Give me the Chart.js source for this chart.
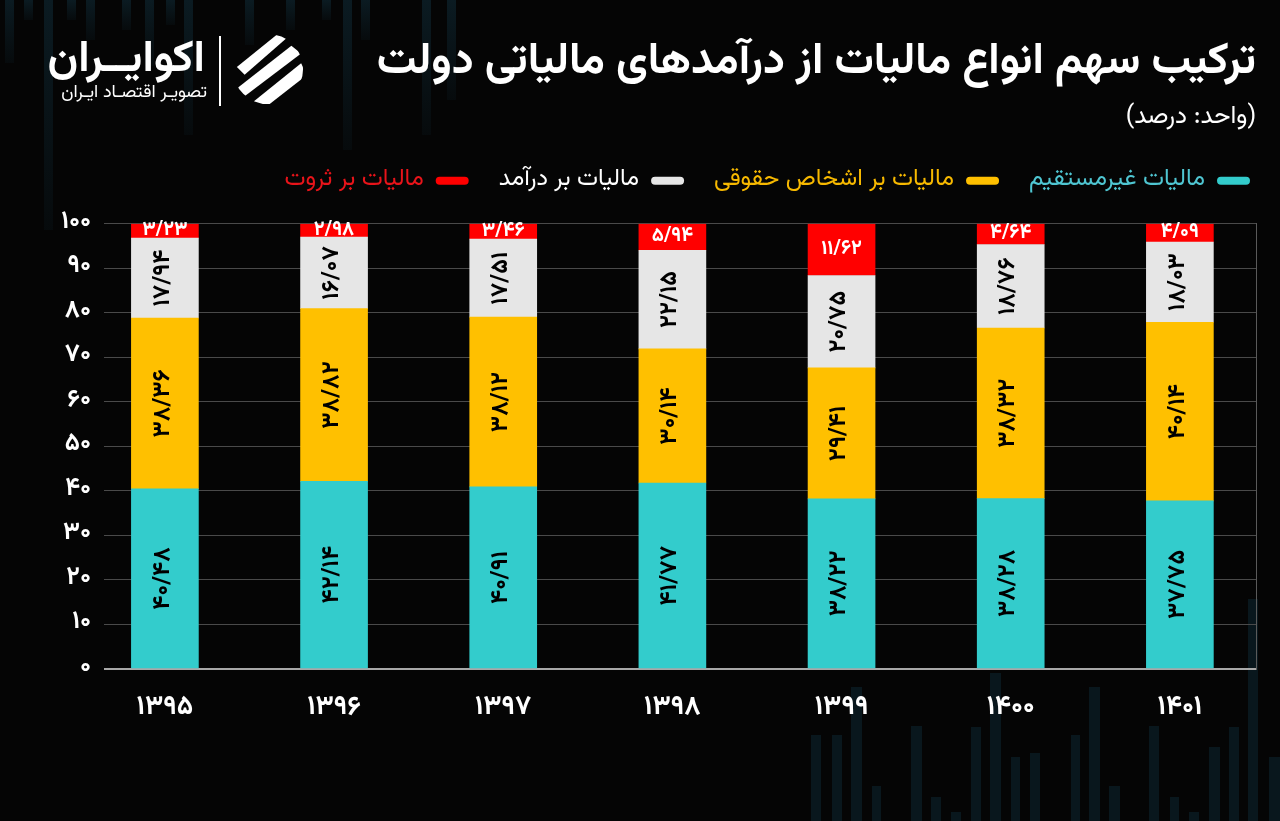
<!DOCTYPE html>
<html lang="fa">
<head>
<meta charset="utf-8">
<script src="https://cdn.jsdelivr.net/npm/chart.js@4/dist/chart.umd.min.js"></script>
<style>
  html, body { margin: 0; padding: 0; background: #050505; overflow: hidden; }
  #wrap { position: relative; width: 1280px; height: 821px; background: #050505; overflow: hidden; }
  #deco { position: absolute; left: 0; top: 0; width: 1280px; height: 821px; }
  #deco div { position: absolute; }
  #deco div.top { background: linear-gradient(to bottom, #0b1b22, rgba(11,27,34,0.25)); }
  #deco div.bot { background: #09171d; }
  #c { position: absolute; left: 0; top: 0; direction: rtl; }
  .logo-name { position: absolute; right: 1075px; top: 26px; color: #fff; font: bold 44px 'Vazirmatn','Noto Sans Arabic','DejaVu Sans',sans-serif; direction: rtl; white-space: nowrap; }
  .logo-sub { position: absolute; right: 1073px; top: 79px; color: #fff; font: 18px 'Vazirmatn','Noto Sans Arabic','DejaVu Sans',sans-serif; direction: rtl; white-space: nowrap; }
  .logo-div { position: absolute; left: 219px; top: 36px; width: 2px; height: 70px; background: #fff; }
  .logo-icon { position: absolute; left: 231px; top: 32px; }
</style>
</head>
<body>
<div id="wrap">
  <div id="deco"></div>
  <canvas id="c" width="1280" height="821"></canvas>
  <div class="logo-name">اکوایــران</div>
  <div class="logo-sub">تصویـر اقتصـاد ایـران</div>
  <div class="logo-div"></div>
  <svg class="logo-icon" width="74" height="74" viewBox="0 0 76 76">
    <defs><clipPath id="cp"><circle cx="38" cy="38" r="36"/></clipPath></defs>
    <g clip-path="url(#cp)" fill="#fff">
      <polygon points="6,36 48,2 62,2 14,44"/>
      <polygon points="6,58 62,14 72,22 14,66"/>
      <polygon points="20,74 72,32 78,44 32,80"/>
    </g>
  </svg>
</div>
<script>
// ---- data ----
const categories = ['۱۳۹۵', '۱۳۹۶', '۱۳۹۷', '۱۳۹۸', '۱۳۹۹', '۱۴۰۰', '۱۴۰۱'];
const seriesNames = ['مالیات غیرمستقیم', 'مالیات بر اشخاص حقوقی', 'مالیات بر درآمد', 'مالیات بر ثروت'];
const indirectTax  = [40.48, 42.14, 40.91, 41.77, 38.22, 38.28, 37.75];
const corporateTax = [38.36, 38.82, 38.12, 30.14, 29.41, 38.32, 40.14];
const incomeTax    = [17.94, 16.07, 17.51, 22.15, 20.75, 18.76, 18.03];
const wealthTax    = [3.23, 2.98, 3.46, 5.94, 11.62, 4.64, 4.09];
const yTickLabels  = ['۰', '۱۰', '۲۰', '۳۰', '۴۰', '۵۰', '۶۰', '۷۰', '۸۰', '۹۰', '۱۰۰'];

// ---- background decoration (faint vertical stripes, not data) ----
const decoStripes = [
  ['top',5,0,9,63],['top',24,0,9,20],['top',44,0,9,230],['top',67,0,9,20],['top',86,0,9,40],
  ['top',122,0,9,30],['top',145,0,9,66],['top',166,0,9,25],['top',184,0,9,135],['top',245,0,9,45],
  ['top',286,0,9,30],['top',322,0,9,20],['top',343,0,9,150],['top',361,0,9,40],['top',422,0,9,135],
  ['top',447,0,9,100],
  ['bot',811,735,10,86],['bot',832,735,10,86],['bot',851,687,11,134],['bot',872,786,9,35],['bot',911,726,11,95],
  ['bot',931,797,10,24],['bot',951,812,10,9],['bot',971,727,10,94],['bot',990,673,11,148],['bot',1011,757,9,64],
  ['bot',1030,753,10,68],['bot',1071,735,9,86],['bot',1089,687,11,134],['bot',1109,786,11,35],['bot',1149,726,10,95],
  ['bot',1170,797,9,24],['bot',1189,812,10,9],['bot',1209,747,11,74],['bot',1229,727,10,94],['bot',1248,599,10,222],
  ['bot',1269,757,11,64]
];
(function () {
  const deco = document.getElementById('deco');
  decoStripes.forEach(s => {
    const d = document.createElement('div');
    d.className = s[0];
    d.style.left = s[1] + 'px'; d.style.top = s[2] + 'px';
    d.style.width = s[3] + 'px'; d.style.height = s[4] + 'px';
    deco.appendChild(d);
  });
})();

// ---- styles ----
const FONT = "'Vazirmatn','Noto Sans Arabic','DejaVu Sans',sans-serif";
const barColors = ['#33CCCC', '#FFC000', '#E6E6E6', '#FF0000'];
const legendTextColors = ['#4FC6D2', '#F7B900', '#FFFFFF', '#E8141A'];

const faDigits = '۰۱۲۳۴۵۶۷۸۹';
function toFa(v) {
  return v.toFixed(2).replace(/[0-9]/g, d => faDigits[+d]).replace('.', '/');
}

const seriesValues = [indirectTax, corporateTax, incomeTax, wealthTax];
const datasets = seriesValues.map((vals, k) => ({
  label: seriesNames[k],
  data: vals.map((v, i) => ({ x: i, y: v })),
  backgroundColor: barColors[k],
  borderWidth: 0,
  barThickness: 67
}));

const valueLabels = {
  id: 'valueLabels',
  afterDatasetsDraw(chart) {
    const ctx = chart.ctx;
    chart.data.datasets.forEach((ds, di) => {
      const meta = chart.getDatasetMeta(di);
      meta.data.forEach((el, i) => {
        const v = seriesValues[di][i];
        const cy = (el.y + el.base) / 2;
        ctx.save();
        ctx.textAlign = 'center';
        ctx.textBaseline = 'middle';
        if (di === 3) {
          ctx.fillStyle = '#FFFFFF';
          ctx.font = 'bold 20px ' + FONT;
          ctx.fillText(toFa(v), el.x, cy + 1);
        } else {
          ctx.fillStyle = '#000000';
          ctx.font = 'bold 24px ' + FONT;
          ctx.translate(el.x, cy);
          ctx.rotate(-Math.PI / 2);
          ctx.fillText(toFa(v), 0, 0);
        }
        ctx.restore();
      });
    });
  }
};

const legendSpacer = {
  id: 'legendSpacer',
  beforeInit(chart) {
    const orig = chart.legend.fit;
    chart.legend.fit = function () {
      orig.call(this);
      this.height += 21;
    };
  }
};

new Chart(document.getElementById('c'), {
  type: 'bar',
  data: { datasets },
  plugins: [valueLabels, legendSpacer],
  options: {
    responsive: false,
    animation: false,
    devicePixelRatio: 1,
    layout: { padding: 0 },
    plugins: {
      tooltip: { enabled: false },
      title: {
        display: true,
        text: 'ترکیب سهم انواع مالیات از درآمدهای مالیاتی دولت',
        align: 'end',
        fullSize: false,
        color: '#FFFFFF',
        font: { family: FONT, size: 44, weight: 'bold', lineHeight: 1.2 },
        padding: { top: 40, bottom: 10 }
      },
      subtitle: {
        display: true,
        text: '(واحد: درصد)',
        align: 'end',
        fullSize: false,
        color: '#FFFFFF',
        font: { family: FONT, size: 25, lineHeight: 1.2 },
        padding: { top: 1, bottom: 5 }
      },
      legend: {
        position: 'top',
        align: 'start',
        rtl: true,
        textDirection: 'rtl',
        labels: {
          font: { family: FONT, size: 24 },
          padding: 30,
          boxWidth: 33,
          boxHeight: 8,
          useBorderRadius: true,
          borderRadius: 4,
          generateLabels(chart) {
            const items = Chart.defaults.plugins.legend.labels.generateLabels(chart);
            items.forEach((it, i) => {
              it.fontColor = legendTextColors[i];
              it.lineWidth = 0;
              it.strokeStyle = 'transparent';
              it.borderRadius = 4;
            });
            return items;
          }
        }
      }
    },
    scales: {
      x: {
        type: 'linear',
        stacked: true,
        offset: false,
        min: -0.36,
        max: 6.45,
        grid: { display: false, offset: false },
        border: { display: false },
        ticks: {
          stepSize: 1,
          includeBounds: false,
          autoSkip: false,
          maxRotation: 0,
          padding: 17,
          color: '#FFFFFF',
          font: { family: FONT, size: 27, weight: 'bold' },
          callback: (v) => Number.isInteger(v) && categories[v] !== undefined ? categories[v] : ''
        },
        afterFit(scale) { scale.height = 152; }
      },
      y: {
        stacked: true,
        min: 0,
        max: 100,
        border: { display: false },
        grid: {
          drawTicks: false,
          color: (c) => (c.tick && c.tick.value === 0) ? '#A8A8A8' : '#4A4A4A',
          lineWidth: (c) => (c.tick && c.tick.value === 0) ? 2 : 1
        },
        ticks: {
          stepSize: 10,
          padding: 13,
          color: '#FFFFFF',
          font: { family: FONT, size: 25, weight: 'bold' },
          callback: (v) => yTickLabels[Math.round(v / 10)]
        },
        afterFit(scale) { scale.width = 104; }
      },
      yRight: {
        position: 'right',
        display: true,
        min: 0,
        max: 100,
        grid: { display: false },
        ticks: { display: false },
        border: { display: true, color: '#5A5A5A', width: 1 },
        afterFit(scale) { scale.width = 24; }
      }
    }
  }
});
</script>
</body>
</html>
